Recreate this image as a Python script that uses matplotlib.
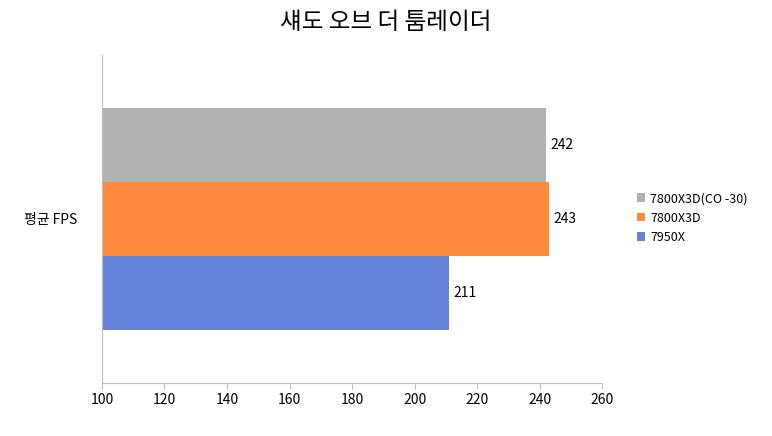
import matplotlib
matplotlib.use("Agg")
import matplotlib.pyplot as plt

plt.rcParams['font.family'] = ['Noto Sans CJK KR', 'DejaVu Sans']

series = ["7950X", "7800X3D", "7800X3D(CO -30)"]
values = [211, 243, 242]
colors = ["#6482D9", "#FF8A3C", "#B2B2B2"]
category = "평균 FPS"
title = "섀도 오브 더 툼레이더"
xticks = [100, 120, 140, 160, 180, 200, 220, 240, 260]

fig = plt.figure(figsize=(7.72, 4.36), dpi=100)
ax = fig.add_axes([0.132, 0.122, 0.648, 0.752])
for i, (s, v, c) in enumerate(zip(series, values, colors)):
    ax.barh(i, v - 100, left=100, height=1.0, color=c, label=s)
    ax.text(v + 1.5, i, str(v), va='center', ha='left', fontsize=10)
ax.set_xlim(100, 260)
ax.set_ylim(1 - 2.215, 1 + 2.215)
ax.set_xticks(xticks)
ax.set_xticklabels([str(t) for t in xticks], fontsize=10)
ax.set_yticks([1])
ax.set_yticklabels([category], fontsize=10)
ax.tick_params(axis='y', length=0, pad=18)
ax.tick_params(axis='x', direction='out', length=4, color='#BFBFBF')
for sp in ['top', 'right']:
    ax.spines[sp].set_visible(False)
for sp in ['left', 'bottom']:
    ax.spines[sp].set_color('#BFBFBF')
fig.suptitle(title, fontsize=17, x=0.5, y=0.975)
handles, labels = ax.get_legend_handles_labels()
fig.legend(handles[::-1], labels[::-1], loc='center left', bbox_to_anchor=(0.81, 0.5),
           frameon=False, fontsize=9, handlelength=0.7, handleheight=0.7, labelspacing=0.5,
           handletextpad=0.4)
fig.savefig("out.png", dpi=100)
